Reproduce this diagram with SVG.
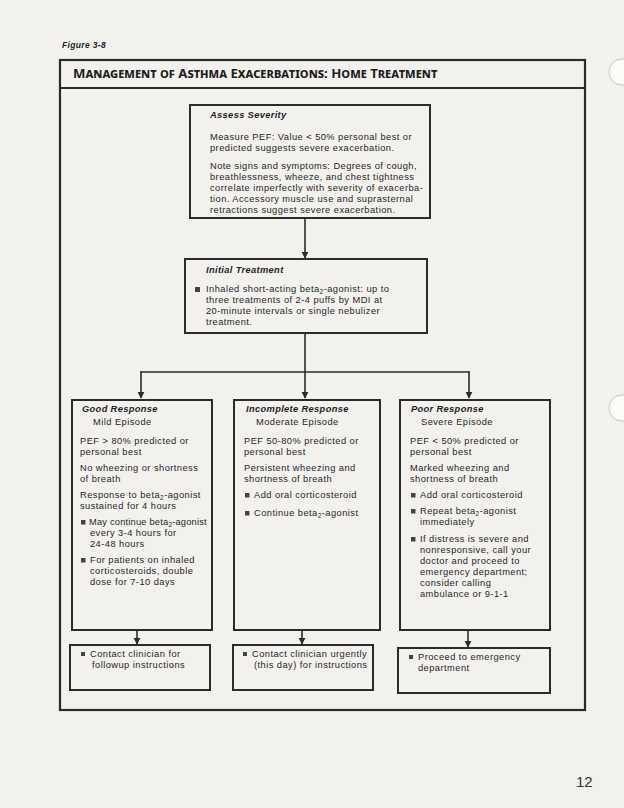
<svg xmlns="http://www.w3.org/2000/svg" width="624" height="808" viewBox="0 0 624 808">
<style>
.t{font-family:"Liberation Sans",Arial,sans-serif;font-size:9.3px;letter-spacing:0.45px;fill:#262626}
.h{font-family:"Liberation Sans",Arial,sans-serif;font-size:9.3px;letter-spacing:0.35px;font-weight:bold;font-style:italic;fill:#1e1e1e}
.box{fill:none;stroke:#2b2b2b;stroke-width:2}
.frame{fill:none;stroke:#2b2b2b;stroke-width:2.2}
.c{fill:none;stroke:#2b2b2b;stroke-width:1.6}
.b{fill:#444}
.sub{font-size:6.5px}
</style>
<defs>
<marker id="ah" viewBox="0 0 10 10" refX="9" refY="5" markerWidth="7" markerHeight="8" orient="auto" markerUnits="userSpaceOnUse">
<path d="M0,0 L10,5 L0,10 z" fill="#2b2b2b"/>
</marker>
</defs>
<rect x="0" y="0" width="624" height="808" fill="#f3f1ee"/>
<g id="holes" fill="#fbfbfa" stroke="#c8c8c8" stroke-width="1">
<circle cx="622" cy="72" r="13"/>
<circle cx="622" cy="408" r="13"/>
</g>
<text x="62" y="48" class="h" style="font-size:8.5px">Figure 3-8</text>
<g id="frame">
<rect x="60" y="60" width="525" height="650" class="frame"/>
<line x1="60" y1="88" x2="585" y2="88" class="frame"/>
<text x="73" y="78" style="font-family:'Noto Sans','Open Sans',sans-serif;font-size:13.2px;font-variant:small-caps;fill:#1e1e1e;font-weight:bold">Management of Asthma Exacerbations:  Home Treatment</text>
</g>
<g id="connectors">
<line x1="305" y1="218" x2="305" y2="258" class="c" marker-end="url(#ah)"/>
<polyline points="305,333 305,372" class="c"/>
<line x1="141" y1="372" x2="469" y2="372" class="c"/>
<line x1="141" y1="371" x2="141" y2="398" class="c" marker-end="url(#ah)"/>
<line x1="305" y1="372" x2="305" y2="398" class="c" marker-end="url(#ah)"/>
<line x1="469" y1="371" x2="469" y2="398" class="c" marker-end="url(#ah)"/>
<line x1="137" y1="630" x2="137" y2="644" class="c" marker-end="url(#ah)"/>
<line x1="302" y1="630" x2="302" y2="644" class="c" marker-end="url(#ah)"/>
<line x1="468" y1="630" x2="468" y2="647" class="c" marker-end="url(#ah)"/>
</g>
<g id="assess">
<rect x="190" y="105" width="240" height="113" class="box"/>
<text x="210" y="118" class="h">Assess Severity</text>
<text class="t" x="210" y="140">Measure PEF: Value &lt; 50% personal best or</text>
<text class="t" x="210" y="151">predicted suggests severe exacerbation.</text>
<text class="t" x="210" y="169">Note signs and symptoms: Degrees of cough,</text>
<text class="t" x="210" y="180">breathlessness, wheeze, and chest tightness</text>
<text class="t" x="210" y="191">correlate imperfectly with severity of exacerba-</text>
<text class="t" x="210" y="202">tion. Accessory muscle use and suprasternal</text>
<text class="t" x="210" y="213">retractions suggest severe exacerbation.</text>
</g>
<g id="initial">
<rect x="185" y="259" width="242" height="74" class="box"/>
<text x="206" y="273" class="h">Initial Treatment</text>
<rect x="195" y="287" width="5" height="5" class="b"/>
<text class="t" x="206" y="292">Inhaled short-acting beta<tspan class="sub" dy="2">2</tspan><tspan dy="-2">-agonist: up to</tspan></text>
<text class="t" x="206" y="303">three treatments of 2-4 puffs by MDI at</text>
<text class="t" x="206" y="314">20-minute intervals or single nebulizer</text>
<text class="t" x="206" y="325">treatment.</text>
</g>
<g id="good">
<rect x="72" y="400" width="140" height="230" class="box"/>
<text x="82" y="412" class="h">Good Response</text>
<text x="93" y="425" class="t">Mild Episode</text>
<text class="t" x="80" y="444">PEF &gt; 80% predicted or</text>
<text class="t" x="80" y="455">personal best</text>
<text class="t" x="80" y="471">No wheezing or shortness</text>
<text class="t" x="80" y="482">of breath</text>
<text class="t" x="80" y="498">Response to beta<tspan class="sub" dy="2">2</tspan><tspan dy="-2">-agonist</tspan></text>
<text class="t" x="80" y="509">sustained for 4 hours</text>
<rect x="81" y="520" width="4.5" height="4.5" class="b"/>
<text class="t" x="89" y="525" style="letter-spacing:0.2px">May continue beta<tspan class="sub" dy="2">2</tspan><tspan dy="-2">-agonist</tspan></text>
<text class="t" x="90" y="536">every 3-4 hours for</text>
<text class="t" x="90" y="547">24-48 hours</text>
<rect x="81" y="558" width="4.5" height="4.5" class="b"/>
<text class="t" x="90" y="563">For patients on inhaled</text>
<text class="t" x="90" y="574">corticosteroids, double</text>
<text class="t" x="90" y="585">dose for 7-10 days</text>
</g>
<g id="incomplete">
<rect x="234" y="400" width="146" height="230" class="box"/>
<text x="246" y="412" class="h">Incomplete Response</text>
<text x="256" y="425" class="t">Moderate Episode</text>
<text class="t" x="244" y="444">PEF 50-80% predicted or</text>
<text class="t" x="244" y="455">personal best</text>
<text class="t" x="244" y="471">Persistent wheezing and</text>
<text class="t" x="244" y="482">shortness of breath</text>
<rect x="245" y="493" width="4.5" height="4.5" class="b"/>
<text class="t" x="254" y="498">Add oral corticosteroid</text>
<rect x="245" y="511" width="4.5" height="4.5" class="b"/>
<text class="t" x="254" y="516">Continue beta<tspan class="sub" dy="2">2</tspan><tspan dy="-2">-agonist</tspan></text>
</g>
<g id="poor">
<rect x="400" y="400" width="150" height="230" class="box"/>
<text x="411" y="412" class="h">Poor Response</text>
<text x="421" y="425" class="t">Severe Episode</text>
<text class="t" x="410" y="444">PEF &lt; 50% predicted or</text>
<text class="t" x="410" y="455">personal best</text>
<text class="t" x="410" y="471">Marked wheezing and</text>
<text class="t" x="410" y="482">shortness of breath</text>
<rect x="411" y="493" width="4.5" height="4.5" class="b"/>
<text class="t" x="420" y="498">Add oral corticosteroid</text>
<rect x="411" y="509" width="4.5" height="4.5" class="b"/>
<text class="t" x="420" y="514">Repeat beta<tspan class="sub" dy="2">2</tspan><tspan dy="-2">-agonist</tspan></text>
<text class="t" x="420" y="525">immediately</text>
<rect x="411" y="537" width="4.5" height="4.5" class="b"/>
<text class="t" x="420" y="542">If distress is severe and</text>
<text class="t" x="420" y="553">nonresponsive, call your</text>
<text class="t" x="420" y="564">doctor and proceed to</text>
<text class="t" x="420" y="575">emergency department;</text>
<text class="t" x="420" y="586">consider calling</text>
<text class="t" x="420" y="597">ambulance or 9-1-1</text>
</g>
<g id="good-action">
<rect x="70" y="645" width="140" height="45" class="box"/>
<rect x="81" y="652" width="4" height="4" class="b"/>
<text class="t" x="90" y="657">Contact clinician for</text>
<text class="t" x="92" y="668">followup instructions</text>
</g>
<g id="incomplete-action">
<rect x="233" y="645" width="140" height="45" class="box"/>
<rect x="243" y="652" width="4" height="4" class="b"/>
<text class="t" x="252" y="657">Contact clinician urgently</text>
<text class="t" x="254" y="668">(this day) for instructions</text>
</g>
<g id="poor-action">
<rect x="398" y="648" width="152" height="45" class="box"/>
<rect x="409" y="655" width="4" height="4" class="b"/>
<text class="t" x="418" y="660">Proceed to emergency</text>
<text class="t" x="418" y="671">department</text>
</g>
<text x="576" y="787" style="font-family:'Liberation Sans',sans-serif;font-size:15px;fill:#333">12</text>
</svg>
